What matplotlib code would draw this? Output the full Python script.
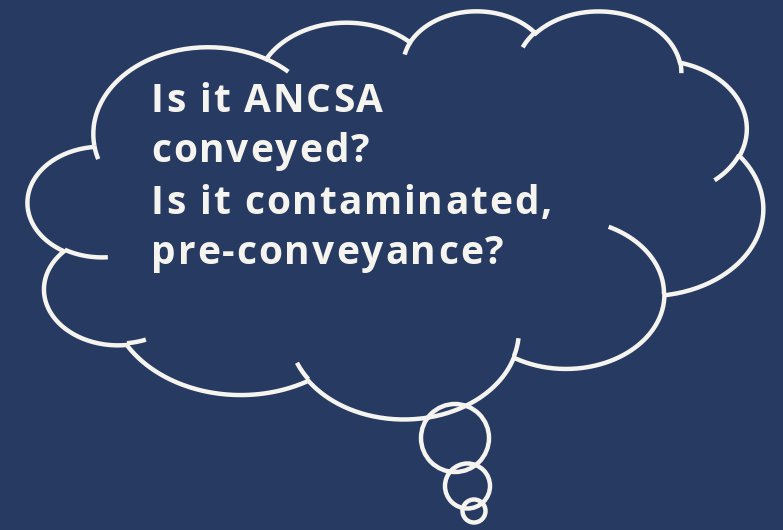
"""
Thought bubble slide: "Is it ANCSA conveyed? Is it contaminated, pre-conveyance?"

The cloud is the PowerPoint cloud-callout outline, rebuilt from its arc list
(43200 x 43200 grid) and scaled to the shape box on the slide.
"""

import matplotlib.pyplot as plt
import numpy as np
from matplotlib import font_manager
from matplotlib.ft2font import FT2Font

BG = "#263a62"
INK = "#f6f4ef"

# shape box on the slide in pixels: left, top, width, height
BOX = (28, 10, 735, 408)

# outline: start point, then arcs as (wR, hR, stAng, swAng)
OUTLINE_START = (3900, 14370)
OUTLINE_ARCS = [
    (6753, 9190, -11429249, 7426832),
    (5333, 7267, -8646143, 5396714),
    (4365, 5945, -8748475, 5983381),
    (4857, 6595, -7859164, 7034504),
    (5333, 7273, -4722533, 6541615),
    (6775, 9220, -2776035, 7816140),
    (5785, 7867, 37501, 6842000),
    (6752, 9215, 1347096, 6910353),
    (7720, 10543, 3974558, 4542661),
    (4360, 5918, -16496525, 8804134),
    (4345, 5945, -14809710, 9151131),
]

# inner hint arcs: start point, arc
HINT_STARTS = [
    (4693, 26177), (6928, 34899), (16478, 39090), (28827, 34751),
    (34129, 22954), (41798, 15354), (38324, 5426), (29078, 3952),
    (22141, 4720), (14000, 5192), (4127, 15789),
]
HINT_ARCS = [
    (4345, 5945, 5204520, 1585770),
    (4360, 5918, 4416628, 686848),
    (6752, 9215, 8257449, 844866),
    (6752, 9215, 387196, 959901),
    (5785, 7867, -4217541, 4255042),
    (5333, 7273, 1819082, 1665090),
    (4857, 6595, -824660, 891534),
    (4857, 6595, -8950887, 1091722),
    (4365, 5945, -9809656, 1061181),
    (6753, 9190, -4002417, 739161),
    (6753, 9190, 9459261, 711490),
]

# thought bubbles under the cloud (pixels)
BUBBLE_X = [455, 467.5, 474]
BUBBLE_Y = [438, 486, 511]
BUBBLE_R = [34, 22.5, 11.5]

TEXT_LINES = ["Is it ANCSA", "conveyed?", "Is it contaminated,", "pre-conveyance?"]
TEXT_BASELINES = [112, 162, 214, 264]
TEXT_LEFT = 151
FONT_SIZE = 28
TRACKING = 1.95  # extra pixels between letters, as on the slide


def arc_to(x, y, wr, hr, st, sw, n=90):
    """Points of a DrawingML arcTo that starts at (x, y), in grid units."""
    st = np.deg2rad(st / 60000.0)
    sw = np.deg2rad(sw / 60000.0)
    th = np.linspace(st, st + sw, n)
    # visual angle -> ellipse parameter
    t = np.unwrap(np.arctan2(wr * np.sin(th), hr * np.cos(th)))
    cx = x - wr * np.cos(t[0])
    cy = y - hr * np.sin(t[0])
    return cx + wr * np.cos(t), cy + hr * np.sin(t)


def to_px(gx, gy):
    x0, y0, w, h = BOX
    return x0 + np.asarray(gx) * w / 43200.0, y0 + np.asarray(gy) * h / 43200.0


fig = plt.figure(figsize=(7.83, 5.30), dpi=100)
fig.patch.set_facecolor(BG)
ax = fig.add_axes([0, 0, 1, 1])
ax.set_facecolor(BG)
ax.set_xlim(0, 783)
ax.set_ylim(530, 0)
ax.axis("off")

line_kw = dict(color=INK, lw=3.2, solid_capstyle="butt", solid_joinstyle="miter")

# main outline
gx, gy = [OUTLINE_START[0]], [OUTLINE_START[1]]
for wR, hR, st, sw in OUTLINE_ARCS:
    ax_, ay_ = arc_to(gx[-1], gy[-1], wR, hR, st, sw)
    gx.extend(ax_[1:])
    gy.extend(ay_[1:])
gx.append(gx[0])
gy.append(gy[0])
ax.plot(*to_px(gx, gy), **line_kw)

# hint arcs
for (sx, sy), (wR, hR, st, sw) in zip(HINT_STARTS, HINT_ARCS):
    hx, hy = arc_to(sx, sy, wR, hR, st, sw, n=40)
    ax.plot(*to_px(hx, hy), **line_kw)

# bubbles
for bx, by, br in zip(BUBBLE_X, BUBBLE_Y, BUBBLE_R):
    ax.add_patch(plt.Circle((bx, by), br, fill=False, ec=INK, lw=3.2))

# text, letter by letter so the slide's character spacing can be kept
fp = font_manager.FontProperties(family="Open Sans", weight="bold", size=FONT_SIZE)
ft = FT2Font(font_manager.findfont(fp))
ft.set_size(FONT_SIZE, 100)

for line, base in zip(TEXT_LINES, TEXT_BASELINES):
    x = TEXT_LEFT
    for ch in line:
        ax.text(x, base, ch, color=INK, fontproperties=fp,
                ha="left", va="baseline")
        x += ft.load_char(ord(ch)).linearHoriAdvance / 65536 + TRACKING

fig.savefig("out.png", dpi=100, facecolor=BG)
plt.close(fig)
